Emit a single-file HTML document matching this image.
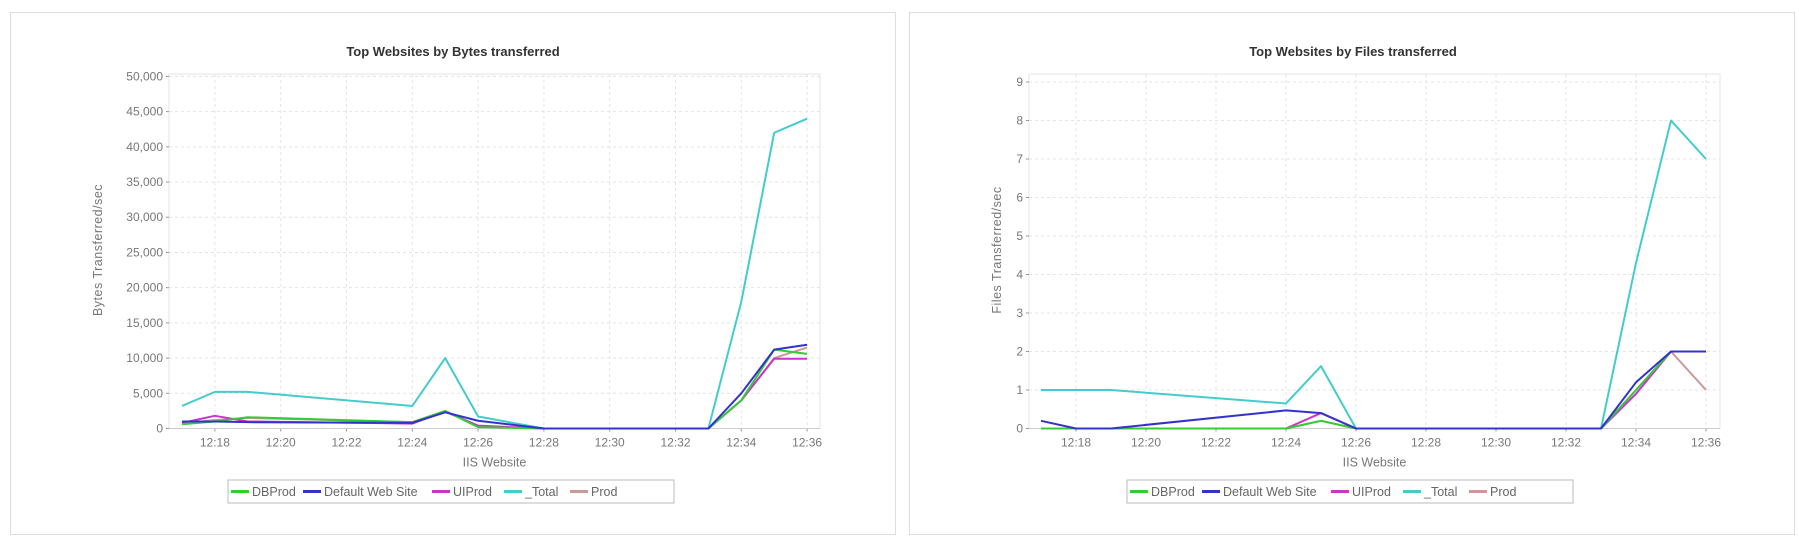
<!DOCTYPE html>
<html><head><meta charset="utf-8"><style>
body{margin:0;background:#fff;width:1799px;height:538px;overflow:hidden;font-family:"Liberation Sans",sans-serif}
svg{position:absolute;left:0;top:0}
</style></head><body>
<svg id="s" width="1799" height="538" xmlns="http://www.w3.org/2000/svg"></svg>
<script>
const s=document.getElementById('s');let h='';
const C={DB:'#33cc33',Def:'#3333cc',UI:'#cc33cc',T:'#44cccc',P:'#cc9999'};
function chart(o){
 const {px,pw,x0,x1,y0,y1,t0x,mpx,title,tcx,ylab,ylx,ycx,ticks,ymax,ytop,fmt,lx,lw,data}=o;
 h+=`<rect x="${px}" y="12.5" width="${pw}" height="522" fill="#fff" stroke="#ddd"/>`;
 h+=`<text x="${tcx}" y="56" font-size="13" font-weight="bold" fill="#333" text-anchor="middle">${title}</text>`;
 h+=`<rect x="${x0}" y="${y0}" width="${x1-x0}" height="${y1-y0}" fill="#fff" stroke="#e6e6e6"/>`;
 const Y=v=>y1-v/ymax*(y1-ytop), X=m=>t0x+(m-17)*mpx;
 for(const v of ticks){const y=Y(v);
  h+=`<line x1="${x0}" x2="${x1}" y1="${y}" y2="${y}" stroke="#e4e4e4" stroke-dasharray="3,3"/>`;
  h+=`<line x1="${x0-3}" x2="${x0}" y1="${y}" y2="${y}" stroke="#999"/>`;
  h+=`<text x="${x0-6}" y="${y+4}" font-size="12" fill="#777" text-anchor="end">${fmt(v)}</text>`;}
 for(let m=18;m<=36;m+=2){const x=X(m);
  h+=`<line x1="${x}" x2="${x}" y1="${y0}" y2="${y1}" stroke="#e4e4e4" stroke-dasharray="3,3"/>`;
  h+=`<line x1="${x}" x2="${x}" y1="${y1}" y2="${y1+3}" stroke="#999"/>`;
  h+=`<text x="${x}" y="${y1+18}" font-size="12" fill="#777" text-anchor="middle">12:${m}</text>`;}
 h+=`<line x1="${x0}" x2="${x1}" y1="${y1}" y2="${y1}" stroke="#ccc"/>`;
 h+=`<text x="${(x0+x1)/2}" y="${y1+38}" font-size="12.5" fill="#777" text-anchor="middle">IIS Website</text>`;
 h+=`<text transform="translate(${ylx},${ycx}) rotate(-90)" font-size="12.5" fill="#777" text-anchor="middle" letter-spacing="0.5">${ylab}</text>`;
 for(const k of ['T','P','UI','DB','Def']){const d=data[k];
  h+=`<polyline fill="none" stroke="${C[k]}" stroke-width="2" stroke-linejoin="round" points="${d.map(p=>X(p[0])+','+Y(p[1])).join(' ')}"/>`;}
 h+=`<rect x="${lx}" y="480" width="${lw}" height="23" fill="#fff" stroke="#bbb"/>`;
 const items=[['DB','DBProd'],['Def','Default Web Site'],['UI','UIProd'],['T','_Total'],['P','Prod']];
 let x=lx+3;
 for(const [k,n] of items){h+=`<rect x="${x}" y="490" width="18" height="3" fill="${C[k]}"/>`;
  h+=`<text x="${x+21}" y="496" font-size="12.5" fill="#666">${n}</text>`;
  const tw={DB:44,Def:101,UI:44,T:38,P:30}[k]; x+=21+tw+7;}
}
const z=[[28,0],[33,0]];
chart({px:10.5,pw:885,x0:169,x1:820,y0:74,y1:428.5,t0x:182,mpx:32.9,title:'Top Websites by Bytes transferred',tcx:453,
 ylab:'Bytes Transferred/sec',ylx:102,ycx:250,ticks:[0,5,10,15,20,25,30,35,40,45,50],ymax:50,ytop:76.4,
 fmt:v=>v==0?'0':v+',000',lx:228,lw:446,data:{
 T:[[17,3.2],[18,5.2],[19,5.2],[24,3.2],[25,10],[26,1.7],...z,[34,18],[35,42],[36,44]],
 DB:[[17,0.6],[18,1.0],[19,1.6],[24,0.9],[25,2.5],[26,0.2],...z,[34,4],[35,11.2],[36,10.6]],
 Def:[[17,1.0],[18,1.0],[19,0.9],[24,0.8],[25,2.3],[26,1.1],...z,[34,5],[35,11.2],[36,11.9]],
 UI:[[17,0.8],[18,1.8],[19,1.0],[24,0.7],[25,2.4],[26,0.4],...z,[34,4],[35,9.9],[36,9.9]],
 P:[[17,0.7],[18,1.2],[19,1.5],[24,0.9],[25,2.5],[26,0.3],...z,[34,4],[35,10],[36,11.5]]}});
chart({px:909.5,pw:885,x0:1029,x1:1720,y0:74,y1:428.5,t0x:1041,mpx:35,title:'Top Websites by Files transferred',tcx:1353,
 ylab:'Files Transferred/sec',ylx:1001,ycx:250,ticks:[0,1,2,3,4,5,6,7,8,9],ymax:9,ytop:82,
 fmt:v=>''+v,lx:1127,lw:446,data:{
 T:[[17,1],[18,1],[19,1],[24,0.65],[25,1.62],[26,0],[33,0],[34,4.3],[35,8],[36,7]],
 Def:[[17,0.2],[18,0],[19,0],[24,0.47],[25,0.4],[26,0],[33,0],[34,1.2],[35,2],[36,2]],
 UI:[[17,0],[24,0],[25,0.4],[26,0],[33,0],[34,0.9],[35,2],[36,2]],
 P:[[17,0],[24,0],[25,0.2],[26,0],[33,0],[34,1],[35,2],[36,1]],
 DB:[[17,0],[24,0],[25,0.2],[26,0],[33,0],[34,1],[35,2],[36,2]]}});
s.innerHTML=h;
</script>
</body></html>
